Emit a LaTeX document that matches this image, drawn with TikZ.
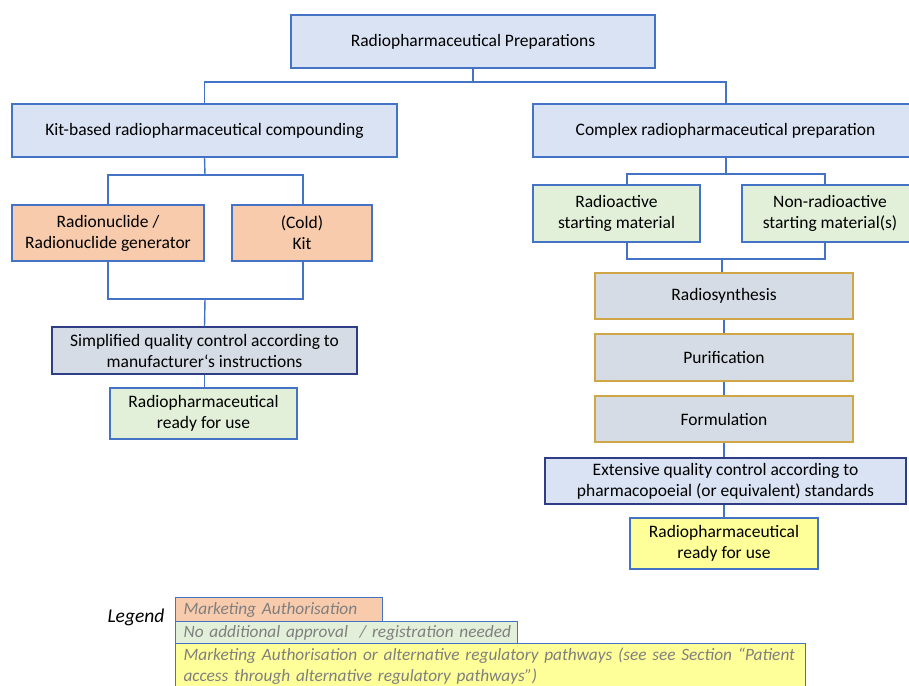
\documentclass[tikz,border=0pt]{standalone}
\usepackage{fontspec}
\setmainfont{Carlito}
\definecolor{lblue}{HTML}{DAE3F3}
\definecolor{lorange}{HTML}{F8CBAD}
\definecolor{lgreen}{HTML}{E2F0D9}
\definecolor{lgray}{HTML}{D6DCE5}
\definecolor{lyellow}{HTML}{FFFF99}
\definecolor{edgeblue}{HTML}{4472C4}
\definecolor{navy}{HTML}{2F3E84}
\definecolor{gold}{HTML}{CFA746}
\definecolor{legtext}{HTML}{7F7F7F}
\tikzset{
  box/.style={draw=edgeblue, line width=1.2pt, inner sep=0pt, align=center,
    font=\fontsize{17.5}{21}\selectfont, text=black},
  bluebox/.style={box, fill=lblue},
  orangebox/.style={box, fill=lorange},
  greenbox/.style={box, fill=lgreen},
  graybox/.style={box, fill=lgray, draw=navy},
  goldbox/.style={box, fill=lgray, draw=gold, line width=1.4pt},
  qcbox/.style={box, fill=lblue, draw=navy},
  yellowbox/.style={box, fill=lyellow},
  legbox/.style={draw=edgeblue, line width=1.2pt, inner xsep=8pt, inner ysep=0pt, anchor=north west,
    align=left, text=legtext, font=\fontsize{17.3}{21}\selectfont\itshape},
  conn/.style={draw=edgeblue, line width=1.4pt}
}
\begin{document}
\begin{tikzpicture}[x=1pt,y=-1pt]
\useasboundingbox (0,0) rectangle (909,685);
% main nodes
\node[bluebox, minimum width=364pt, minimum height=53pt] (top) at (473,41.5) {Radiopharmaceutical Preparations};
\node[bluebox, minimum width=385pt, minimum height=53pt] (kit) at (204.5,130.5) {Kit-based radiopharmaceutical compounding};
\node[bluebox, minimum width=385pt, minimum height=53pt] (cplx) at (725.5,130.5) {Complex radiopharmaceutical preparation};
\node[orangebox, minimum width=192pt, minimum height=56pt] (rn) at (108,233) {Radionuclide /\\Radionuclide generator};
\node[orangebox, minimum width=140pt, minimum height=56pt] (cold) at (302,233) {(Cold)\\Kit};
\node[graybox, minimum width=305pt, minimum height=47pt] (sqc) at (204.5,350.5) {Simplified quality control according to\\manufacturer‘s instructions};
\node[greenbox, minimum width=187pt, minimum height=51pt] (rdyL) at (203.5,413.5) {Radiopharmaceutical\\ready for use};
\node[greenbox, minimum width=167pt, minimum height=57pt] (ra) at (616.5,213.5) {Radioactive\\starting material};
\node[greenbox, minimum width=176pt, minimum height=57pt] (nra) at (830,213.5) {Non-radioactive\\starting material(s)};
\node[goldbox, minimum width=258pt, minimum height=46pt] (rs) at (724,296) {Radiosynthesis};
\node[goldbox, minimum width=258pt, minimum height=47pt] (pur) at (724,357.5) {Purification};
\node[goldbox, minimum width=258pt, minimum height=46pt] (form) at (724,419) {Formulation};
\node[qcbox, minimum width=361pt, minimum height=46pt] (eqc) at (725.5,481) {Extensive quality control according to\\pharmacopoeial (or equivalent) standards};
\node[yellowbox, minimum width=188pt, minimum height=51pt] (rdyR) at (724,543.5) {Radiopharmaceutical\\ready for use};
% connectors
\coordinate (j1) at (473,82);
\draw[conn] (top.south) -- (j1);
\draw[conn] (kit.north) |- (j1) -| ([xshift=0.5pt]cplx.north);
\coordinate (j2) at (205,175);
\draw[conn] (kit.south) -- (j2);
\draw[conn] (rn.north) |- (j2) -| ([xshift=1pt]cold.north);
\coordinate (j3) at (205,299);
\draw[conn] (rn.south) |- (j3) -| ([xshift=1pt]cold.south);
\draw[conn] (j3) -- (sqc.north);
\draw[conn] (sqc.south) -- (rdyL.north -| sqc.south);
\coordinate (j4) at (726,174);
\draw[conn] (cplx.south -| j4) -- (j4);
\draw[conn] ([xshift=10.5pt]ra.north) |- (j4) -| ([xshift=-5pt]nra.north);
\coordinate (j5) at (722,259);
\draw[conn] ([xshift=10.5pt]ra.south) |- (j5) -| ([xshift=-5pt]nra.south);
\draw[conn] (j5) -- (rs.north -| j5);
\draw[conn] (rs.south) -- (pur.north);
\draw[conn] (pur.south) -- (form.north);
\draw[conn] (form.south) -- (form.south |- eqc.north);
\draw[conn] (eqc.south -| rdyR.north) -- (rdyR.north);
% legend
\node[font=\fontsize{19.5}{22}\selectfont\itshape, anchor=west] (leg) at (104,617) {Legend};
\node[legbox, fill=lorange, minimum width=207pt, minimum height=24pt, text width=191pt] (l1) at (175,597) {\mbox{Marketing Authorisation}};
\node[legbox, fill=lgreen, minimum width=342pt, minimum height=22pt, text width=326pt] (l2) at (175,621) {\mbox{No additional approval \ / registration needed}};
\node[legbox, fill=lyellow, minimum width=630pt, minimum height=45pt, text width=614pt, inner ysep=1pt, anchor=north west, font=\fontsize{17.3}{20.5}\selectfont\itshape] (l3) at (175,643) {\mbox{Marketing Authorisation or alternative regulatory pathways (see see Section “Patient}\\\mbox{access through alternative regulatory pathways”)}};
\end{tikzpicture}
\end{document}
